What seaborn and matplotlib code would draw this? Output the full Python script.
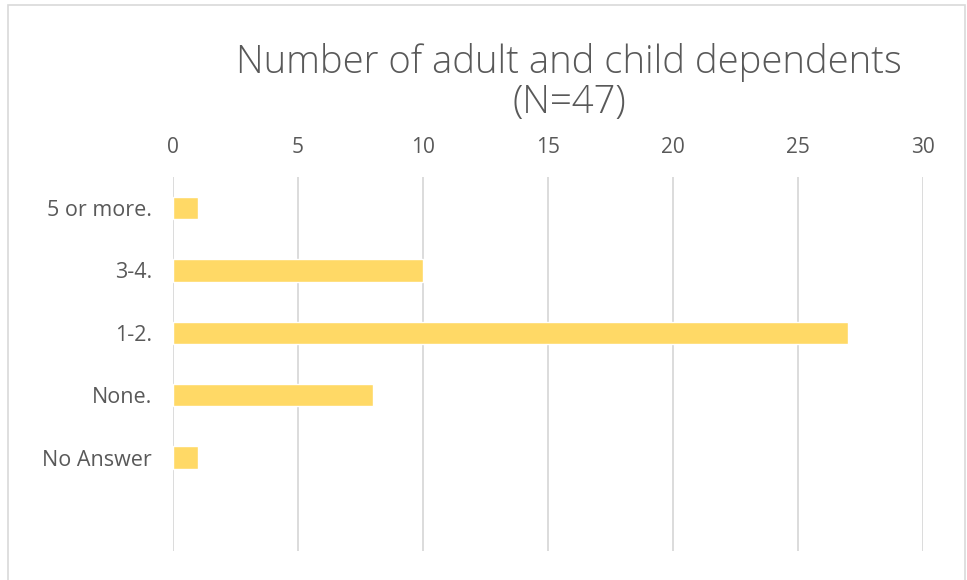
import matplotlib
matplotlib.use("Agg")
import matplotlib.pyplot as plt
import seaborn as sns
import pandas as pd
from matplotlib.patches import Rectangle

# data
categories = ["5 or more.", "3-4.", "1-2.", "None.", "No Answer"]
counts = [1, 10, 27, 8, 1]
x_ticks = [0, 5, 10, 15, 20, 25, 30]

df = pd.DataFrame({"category": categories, "count": counts})

sns.set_style("white")
plt.rcParams["font.family"] = ["Open Sans", "DejaVu Sans"]
text_color = "#595959"
bar_color = "#FFD966"
grid_color = "#D9D9D9"

fig = plt.figure(figsize=(9.67, 5.8), dpi=100)
ax = fig.add_axes([173 / 967, 1 - 551 / 580, 750 / 967, 374 / 580])

sns.barplot(data=df, x="count", y="category", order=categories,
            color=bar_color, saturation=1, width=0.36, ax=ax)

ax.set_xlim(0, 30)
ax.set_ylim(5.5, -0.5)
ax.set_xticks(x_ticks)
ax.xaxis.tick_top()
ax.tick_params(axis="x", length=0, pad=14, labelsize=15, labelcolor=text_color)
ax.tick_params(axis="y", length=0, pad=15, labelsize=15.5, labelcolor=text_color)
ax.set_xlabel("")
ax.set_ylabel("")
ax.grid(axis="x", color=grid_color, linewidth=1.3)
ax.set_axisbelow(True)
for s in ax.spines.values():
    s.set_visible(False)

fig.text(569 / 967, 1 - 62 / 580, "Number of adult and child dependents",
         ha="center", va="center", fontsize=27.5, color=text_color,
         fontweight="light")
fig.text(569 / 967, 1 - 103 / 580, "(N=47)",
         ha="center", va="center", fontsize=27.5, color=text_color,
         fontweight="light")

# light frame around the chart area
fig.patches.append(Rectangle((8 / 967, -0.1), 957 / 967, 1.1 - 5 / 580,
                             transform=fig.transFigure, fill=False,
                             edgecolor=grid_color, linewidth=1.2))

fig.savefig("out.png", dpi=100)
